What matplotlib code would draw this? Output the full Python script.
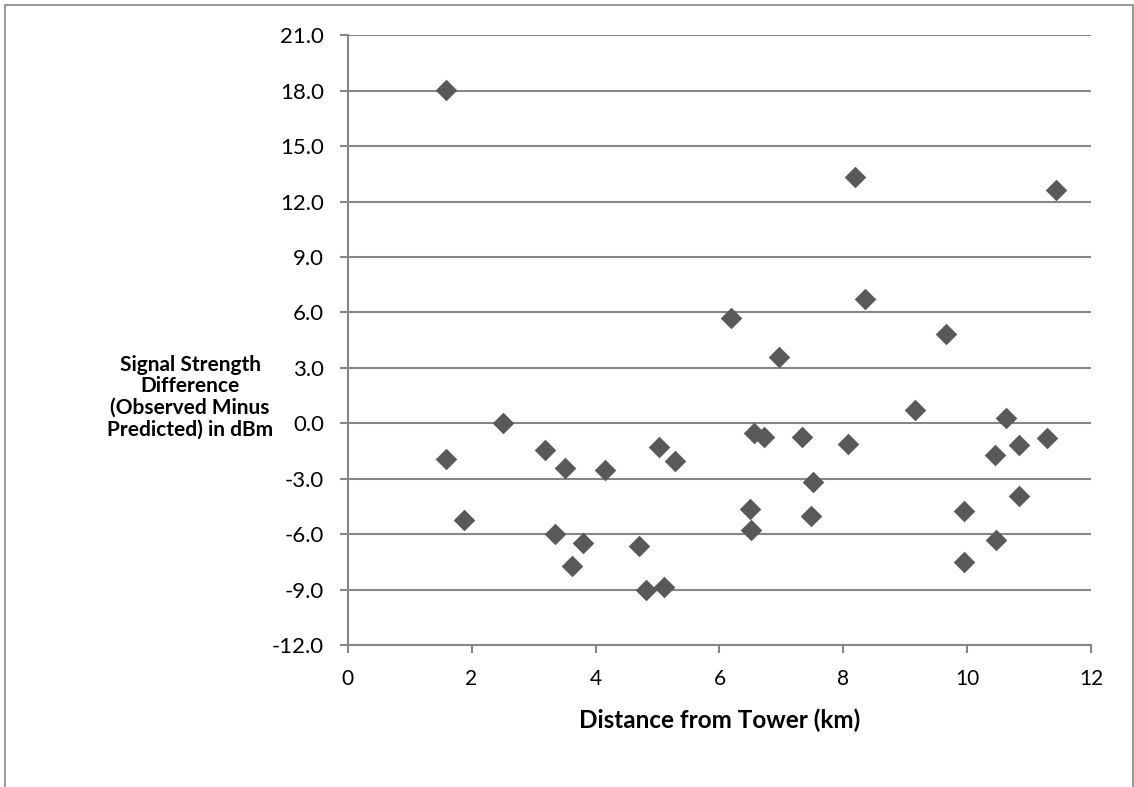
import matplotlib
matplotlib.use("Agg")
import matplotlib.pyplot as plt
from matplotlib.patches import Rectangle

plt.rcParams['font.family'] = ['Lato', 'DejaVu Sans']

# distance from tower (km) and signal strength difference (dBm)
distance_km = [1.59, 1.59, 1.88, 2.50, 3.18, 3.34, 3.51, 3.62, 3.80, 4.16,
               4.70, 4.81, 5.02, 5.11, 5.28, 6.18, 6.49, 6.51, 6.56, 6.72,
               6.96, 7.33, 7.47, 7.51, 8.08, 8.19, 8.35, 9.15, 9.65, 9.94,
               9.95, 10.45, 10.46, 10.62, 10.83, 10.84, 11.28, 11.43]
diff_dbm = [18.05, -1.95, -5.22, 0.02, -1.44, -6.00, -2.43, -7.73, -6.50, -2.52,
            -6.66, -9.04, -1.26, -8.88, -2.05, 5.70, -4.65, -5.80, -0.52, -0.76,
            3.60, -0.76, -5.01, -3.15, -1.13, 13.35, 6.72, 0.74, 4.83, -4.72,
            -7.53, -1.71, -6.29, 0.27, -1.17, -3.96, -0.79, 12.65]

x_ticks = [0, 2, 4, 6, 8, 10, 12]
y_ticks = [-12, -9, -6, -3, 0, 3, 6, 9, 12, 15, 18, 21]

grey = '#868686'

fig = plt.figure(figsize=(11.34, 7.87), dpi=100)
# outer chart border
fig.patches.append(Rectangle((5 / 1134, -0.05), 1127.5 / 1134, 1.05 - 5 / 787,
                             transform=fig.transFigure, fill=False,
                             edgecolor=grey, linewidth=1.2))

ax = fig.add_axes([0.3065, 0.1804, 0.6559, 0.7747])
ax.scatter(distance_km, diff_dbm, marker='D', s=11 ** 2, color='#595959',
           linewidths=0, zorder=3, clip_on=False)

ax.set_xlim(0, 12)
ax.set_ylim(-12, 21)
ax.set_xticks(x_ticks)
ax.set_yticks(y_ticks)
ax.set_yticklabels([f'{v:.1f}' for v in y_ticks])
ax.grid(axis='y', color=grey, linewidth=1.5)
ax.set_axisbelow(True)

for s in ['top', 'right']:
    ax.spines[s].set_visible(False)
for s in ['left', 'bottom']:
    ax.spines[s].set_color(grey)
    ax.spines[s].set_linewidth(1.5)

ax.tick_params(axis='both', colors=grey, length=6, width=1.5, direction='out')
ax.tick_params(axis='y', labelcolor='black', labelsize=16, pad=11)
ax.tick_params(axis='x', labelcolor='black', labelsize=15, pad=11)

ax.set_xlabel('Distance from Tower (km)', fontsize=17.5, fontweight='bold', labelpad=14)
fig.text(190 / 1134, 1 - 397 / 787,
         'Signal Strength\nDifference\n(Observed Minus\nPredicted) in dBm',
         ha='center', va='center', fontsize=15, fontweight='bold',
         linespacing=1.1)

fig.savefig('out.png', dpi=100)
